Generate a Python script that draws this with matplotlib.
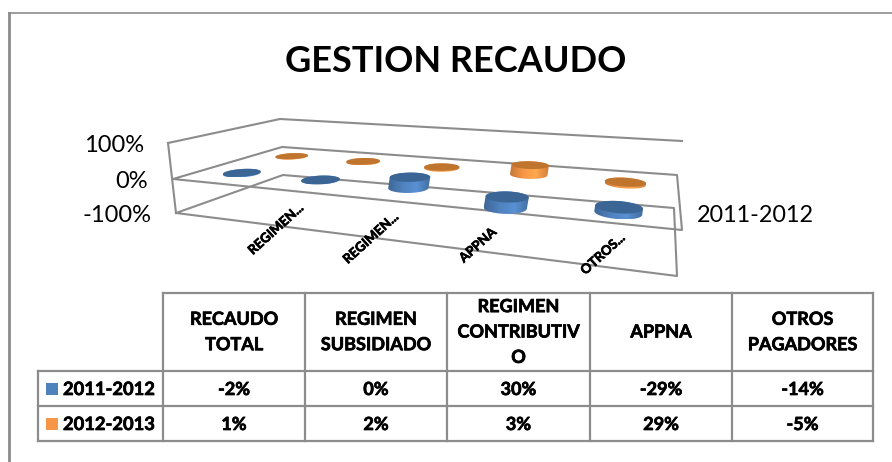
import numpy as np
from matplotlib import pyplot as plt
from matplotlib.colors import to_rgb, LinearSegmentedColormap
from matplotlib.patches import Polygon, Rectangle
import matplotlib.patheffects as pe

plt.rcParams['font.family'] = ['Lato', 'DejaVu Sans']

categories = ['RECAUDO\nTOTAL', 'REGIMEN\nSUBSIDIADO', 'REGIMEN\nCONTRIBUTIV\nO', 'APPNA', 'OTROS\nPAGADORES']
series_names = ['2011-2012', '2012-2013']
values_2011 = [-2, 0, 30, -29, -14]
values_2012 = [1, 2, 3, 29, -5]
axis_labels = ['REGIMEN...', 'REGIMEN...', 'APPNA', 'OTROS...']
y_tick_labels = ['100%', '0%', '-100%']

GRID = '#8c8c8c'
BLUE_TOP, BLUE_SIDE = '#3b6595', '#4f81bd'
ORANGE_TOP, ORANGE_SIDE = '#c0752f', '#f79646'
# bold Lato comes out thinner than the original font, thicken it a little
HEAVY = [pe.withStroke(linewidth=0.5, foreground='black')]


def homography(corners):
    # unit square -> pixel quad, corners in order (0,0) (1,0) (1,1) (0,1)
    src = [(0, 0), (1, 0), (1, 1), (0, 1)]
    a, b = [], []
    for (u, v), (x, y) in zip(src, corners):
        a.append([u, v, 1, 0, 0, 0, -u * x, -v * x])
        a.append([0, 0, 0, u, v, 1, -u * y, -v * y])
        b += [x, y]
    h = np.linalg.solve(np.array(a, float), np.array(b, float))
    return np.append(h, 1).reshape(3, 3)


def project(h, u, v):
    w = h[2, 0] * u + h[2, 1] * v + h[2, 2]
    return (h[0, 0] * u + h[0, 1] * v + h[0, 2]) / w, (h[1, 0] * u + h[1, 1] * v + h[1, 2]) / w


# floor planes of the fake 3d box, as the picture shows them
MID = [(173, 179), (682, 230), (677, 175), (282, 147)]
BOTTOM = [(176, 213), (677, 276), (674, 208), (283, 175)]
H_MID = homography(MID)
H_BOTTOM = homography(BOTTOM)


def disc(u, v, value, ru=0.04, rv=0.1):
    t = np.linspace(0, 2 * np.pi, 80)
    uu, vv = u + ru * np.cos(t), v + rv * np.sin(t)
    x, y = project(H_MID, uu, vv)
    bx, by = project(H_BOTTOM, uu, vv)
    k = value / 100
    return x + (x - bx) * k, y + (y - by) * k


def hull(pts):
    pts = sorted(map(tuple, pts))

    def half(seq):
        out = []
        for p in seq:
            while len(out) > 1:
                a, b = np.subtract(out[-1], out[-2]), np.subtract(p, out[-2])
                if a[0] * b[1] - a[1] * b[0] > 0:
                    break
                out.pop()
            out.append(p)
        return out[:-1]

    return half(pts) + half(pts[::-1])


def cylinder(ax, i, row, value, top, side):
    u = (i + 0.5) / len(categories)
    tx, ty = disc(u, row, max(value, 0))
    bx, by = disc(u, row, min(value, 0))
    outline = hull(np.column_stack([np.r_[tx, bx], np.r_[ty, by]]))
    base = np.array(to_rgb(side))
    cmap = LinearSegmentedColormap.from_list('side', [base * 0.8, base, np.clip(base * 1.12, 0, 1), base * 0.85])
    x0, x1 = min(p[0] for p in outline), max(p[0] for p in outline)
    y0, y1 = min(p[1] for p in outline), max(p[1] for p in outline)
    im = ax.imshow(np.linspace(0, 1, 64).reshape(1, -1), cmap=cmap, extent=(x0, x1, y1, y0),
                   aspect='auto', zorder=3 + i)
    im.set_clip_path(Polygon(outline, closed=True, transform=ax.transData))
    ax.add_patch(Polygon(np.column_stack([tx, ty]), closed=True, fc=top, ec='none', zorder=3.5 + i))


fig = plt.figure(figsize=(8.92, 4.62), dpi=100)
ax = fig.add_axes([0, 0, 1, 1])

# chart frame, open on the right and at the bottom
ax.plot([9, 9], [462, 13], color=GRID, lw=2)
ax.plot([9, 892], [13, 13], color=GRID, lw=1.2)

ax.text(456, 62, 'GESTION RECAUDO', fontsize=26, fontweight='bold', ha='center', va='center')

# box wireframe
top_left_front, top_left_back, top_right_back = (168, 143), (280, 119), (682, 141)
ax.plot(*zip(top_left_front, top_left_back, top_right_back), color=GRID, lw=1.5)
ax.plot(*zip(top_left_front, BOTTOM[0]), color=GRID, lw=1.5)
for plane in (MID, BOTTOM):
    ax.plot(*zip(*(plane + plane[:1])), color=GRID, lw=1.5)

# tick labels follow the tilt of the box edge
for label, x, y in zip(y_tick_labels, (144, 148, 151), (146, 182, 216)):
    ax.text(x, y, label, fontsize=17, ha='right', va='center')
ax.text(697, 215, series_names[0], fontsize=16.8, ha='left', va='center')

for label, x, y in zip(axis_labels, (276, 371, 478, 603), (229, 238, 245, 254)):
    ax.text(x, y, label, fontsize=9.5, fontweight='bold', rotation=42, ha='center', va='center',
            path_effects=HEAVY)

# back row first so the front row covers it
for i, val in enumerate(values_2012):
    cylinder(ax, i, 0.74, val, ORANGE_TOP, ORANGE_SIDE)
for i, val in enumerate(values_2011):
    cylinder(ax, i, 0.25, val, BLUE_TOP, BLUE_SIDE)

# data table under the chart
cols = [163, 305, 447, 590, 732, 873]
rows = [293, 371, 406, 441]
for x in cols:
    ax.plot([x, x], [rows[0], rows[-1]], color=GRID, lw=1.6)
ax.plot([cols[0], cols[-1]], [rows[0], rows[0]], color=GRID, lw=1.6)
for y in rows[1:]:
    ax.plot([38, cols[-1]], [y, y], color=GRID, lw=1.6)
ax.plot([38, 38], [rows[1], rows[-1]], color=GRID, lw=1.6)

cell = dict(fontsize=13, fontweight='bold', ha='center', va='center', path_effects=HEAVY)
for i, cat in enumerate(categories):
    xc = (cols[i] + cols[i + 1]) / 2
    ax.text(xc, (rows[0] + rows[1]) / 2, cat, linespacing=1.6, **cell)
    ax.text(xc, (rows[1] + rows[2]) / 2 + 1, f'{values_2011[i]}%', **cell)
    ax.text(xc, (rows[2] + rows[3]) / 2 + 1, f'{values_2012[i]}%', **cell)

for j, (name, col) in enumerate(zip(series_names, (BLUE_SIDE, ORANGE_SIDE))):
    yc = (rows[j + 1] + rows[j + 2]) / 2
    ax.add_patch(Rectangle((46, yc - 6), 12, 12, fc=col, ec='none'))
    ax.text(63, yc + 1, name, fontsize=13.2, fontweight='bold', ha='left', va='center', path_effects=HEAVY)

ax.set_xlim(0, 892)
ax.set_ylim(462, 0)
ax.set_aspect('auto')
ax.axis('off')

plt.savefig('out.png', dpi=100)
